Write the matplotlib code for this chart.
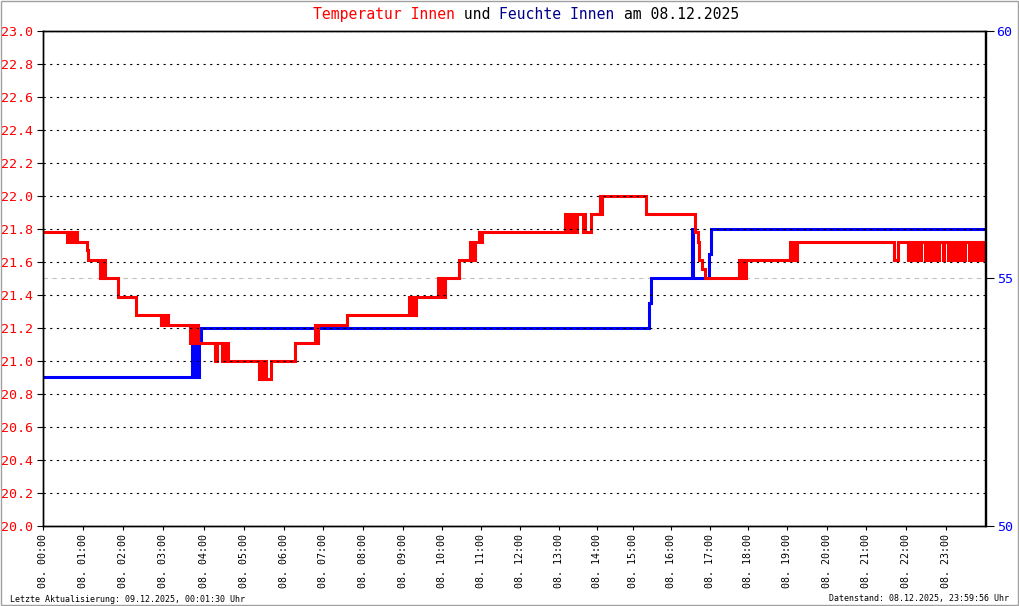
import numpy as np
import matplotlib.pyplot as plt
from matplotlib.patches import Rectangle

# Temperatur Innen (°C), Stufenwert gilt ab Uhrzeit (Stunden)
temp_time = [0.00, 0.60, 0.64, 0.68, 0.72, 0.77, 0.80, 0.84, 1.09, 1.12,
             1.43, 1.47, 1.50, 1.53, 1.56, 1.87, 2.32, 2.94, 2.98, 3.02,
             3.06, 3.12, 3.66, 3.72, 3.76, 3.83, 3.86, 4.27, 4.33, 4.44,
             4.48, 4.52, 4.56, 4.60, 5.38, 5.44, 5.47, 5.52, 5.55, 5.68,
             6.28, 6.79, 6.83, 6.86, 7.58, 9.14, 9.18, 9.22, 9.26, 9.31,
             9.89, 9.94, 9.97, 10.03, 10.06, 10.43, 10.70, 10.73, 10.77, 10.80,
             10.83, 10.94, 10.97, 11.01, 13.14, 13.20, 13.23, 13.30, 13.33, 13.41,
             13.46, 13.61, 13.65, 13.68, 13.82, 14.07, 14.10, 14.12, 15.33, 16.60,
             16.67, 16.71, 16.78, 16.85, 17.76, 17.80, 17.84, 17.88, 17.93, 19.06,
             19.10, 19.14, 19.18, 19.25, 21.70, 21.78,
             22.03, 22.07, 22.10, 22.14, 22.17, 22.22, 22.25, 22.30, 22.33, 22.37,
             22.47, 22.50, 22.53, 22.57, 22.60, 22.65, 22.68, 22.73, 22.76, 22.81,
             22.91, 22.95, 23.05, 23.08, 23.11, 23.15, 23.18, 23.24, 23.27, 23.32,
             23.35, 23.41, 23.44, 23.48, 23.58, 23.61, 23.64, 23.69, 23.72, 23.77,
             23.80, 23.85, 23.88, 23.93, 23.96]
temp_value = [21.78, 21.72, 21.78, 21.72, 21.78, 21.72, 21.78, 21.72, 21.67, 21.61,
              21.50, 21.61, 21.50, 21.61, 21.50, 21.39, 21.28, 21.22, 21.28, 21.22,
              21.28, 21.22, 21.11, 21.22, 21.11, 21.22, 21.11, 21.00, 21.11, 21.00,
              21.11, 21.00, 21.11, 21.00, 20.89, 21.00, 20.89, 21.00, 20.89, 21.00,
              21.11, 21.22, 21.11, 21.22, 21.28, 21.39, 21.28, 21.39, 21.28, 21.39,
              21.50, 21.39, 21.50, 21.39, 21.50, 21.61, 21.72, 21.61, 21.72, 21.61,
              21.72, 21.78, 21.72, 21.78, 21.89, 21.78, 21.89, 21.78, 21.89, 21.78,
              21.89, 21.78, 21.89, 21.78, 21.89, 22.00, 21.89, 22.00, 21.89, 21.78,
              21.72, 21.61, 21.56, 21.50, 21.61, 21.50, 21.61, 21.50, 21.61, 21.72,
              21.61, 21.72, 21.61, 21.72, 21.61, 21.72,
              21.61, 21.72, 21.61, 21.72, 21.61, 21.72, 21.61, 21.72, 21.61, 21.72,
              21.61, 21.72, 21.61, 21.72, 21.61, 21.72, 21.61, 21.72, 21.61, 21.72,
              21.61, 21.72, 21.61, 21.72, 21.61, 21.72, 21.61, 21.72, 21.61, 21.72,
              21.61, 21.72, 21.61, 21.72, 21.61, 21.72, 21.61, 21.72, 21.61, 21.72,
              21.61, 21.72, 21.61, 21.72, 21.61]

# Feuchte Innen (%), Stufenwert gilt ab Uhrzeit (Stunden)
hum_time = [0.00, 3.71, 3.74, 3.77, 3.80, 3.83, 3.86, 3.89, 3.93,
            15.41, 15.45, 16.53, 16.56, 16.97, 17.01]
hum_value = [53.0, 53.7, 53.0, 53.7, 53.0, 53.7, 53.0, 53.7, 54.0,
             54.5, 55.0, 56.0, 55.0, 55.5, 56.0]

hours = list(range(24))
hour_labels = [f"08. {h:02d}:00" for h in hours]
temp_ticks = np.round(np.arange(20.0, 23.01, 0.2), 1)
hum_ticks = [50, 55, 60]

# die Originalgrafik skaliert nach Messpunkten -> Stunden sind unterschiedlich breit
hour_width = [40, 40, 40, 41, 40, 40, 39.5, 40, 40, 39, 39, 39,
              39, 38, 36, 38, 39, 38, 39, 39.5, 39.5, 40, 40, 39]
edges = np.concatenate([[0], np.cumsum(hour_width)])
hgrid = np.arange(25)


def fwd(x):
    return np.interp(x, hgrid, edges)


def inv(p):
    return np.interp(p, edges, hgrid)


plt.rcParams['font.family'] = 'DejaVu Sans Mono'

fig = plt.figure(figsize=(10.2, 6.06), dpi=100)
ax = fig.add_axes([43 / 1020, 1 - 526 / 606, 942.5 / 1020, 495 / 606])
ax.set_xscale('function', functions=(fwd, inv))
ax2 = ax.twinx()
ax.set_zorder(ax2.get_zorder() + 1)
ax.patch.set_visible(False)

ax.step(temp_time + [24], temp_value + [temp_value[-1]], where='post',
        color='#ff0000', lw=2.2, solid_joinstyle='miter', zorder=2)
ax2.step(hum_time + [24], hum_value + [hum_value[-1]], where='post',
         color='#0000ff', lw=2.2, solid_joinstyle='miter', zorder=2)
ax2.axhline(55, color='#c0c0c0', lw=0.8, ls=(0, (4, 4)), zorder=0.6)

ax.set_xlim(0, 24)
ax.set_ylim(20, 23)
ax2.set_ylim(50, 60)

ax.set_xticks(hours)
ax.set_xticklabels(hour_labels, rotation=90, fontsize=7.2)
ax.set_yticks(temp_ticks)
ax.set_yticklabels([f"{v:.1f}" for v in temp_ticks], color='#ff0000', fontsize=9.6)
ax2.set_yticks(hum_ticks)
ax2.set_yticklabels([str(v) for v in hum_ticks], color='#0000ff', fontsize=9.6)

ax.tick_params(axis='x', length=3, width=0.8, pad=3)
ax.tick_params(axis='y', length=4, width=0.8, pad=3)
ax2.tick_params(axis='y', length=6, width=0.8, pad=2)
ax.xaxis.set_minor_locator(plt.NullLocator())
ax2.xaxis.set_minor_locator(plt.NullLocator())

# horizontales Raster liegt ueber den Kurven, vertikales darunter
ax.set_axisbelow(False)
ax.grid(axis='y', color='black', lw=0.8, ls=(0, (2, 4)))
ax2.set_axisbelow(True)
ax2.grid(axis='x', color='black', lw=0.8, ls=(0, (5, 3)))
ax2.grid(axis='y', visible=False)

for a in (ax, ax2):
    for s in a.spines.values():
        s.set_linewidth(1.0)
        s.set_color('black')

# Titel, stueckweise eingefaerbt
title_parts = [("Temperatur Innen", '#ff0000'), (" und ", 'black'),
               ("Feuchte Innen", '#00008b'), (" am 08.12.2025", 'black')]
last = None
for txt, col in title_parts:
    if last is None:
        last = ax.annotate(txt, xy=(313 / 1020, 1 - 22 / 606), xycoords='figure fraction',
                           color=col, fontsize=10.6, ha='left', va='bottom',
                           annotation_clip=False)
    else:
        last = ax.annotate(txt, xy=(1, 0), xycoords=last, color=col, fontsize=10.6,
                           ha='left', va='bottom', annotation_clip=False)

fig.text(10 / 1020, 1 - 599 / 606, "Letzte Aktualisierung: 09.12.2025, 00:01:30 Uhr",
         fontsize=6, ha='left', va='center')
fig.text(1009 / 1020, 1 - 599 / 606, "Datenstand: 08.12.2025, 23:59:56 Uhr",
         fontsize=6, ha='right', va='center')

fig.add_artist(Rectangle((0.5 / 1020, 1 - 604.5 / 606), 1018 / 1020, 604 / 606,
                         transform=fig.transFigure, fill=False,
                         edgecolor='#a0a0a0', lw=1.0))

fig.savefig('out.png', dpi=100)
